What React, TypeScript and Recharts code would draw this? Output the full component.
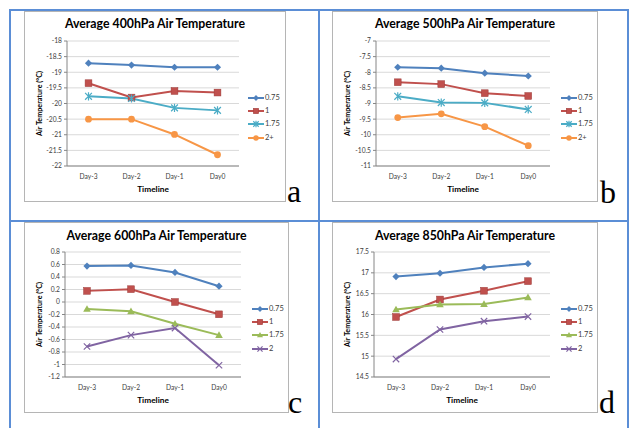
import React from 'react';
import { LineChart, Line, XAxis, YAxis, CartesianGrid, Legend, Label } from 'recharts';

const days = ['Day-3', 'Day-2', 'Day-1', 'Day0'];

// 400hPa
const t400_075 = [-18.71, -18.77, -18.84, -18.84];
const t400_1 = [-19.35, -19.81, -19.6, -19.65];
const t400_175 = [-19.77, -19.84, -20.14, -20.22];
const t400_2 = [-20.5, -20.5, -20.99, -21.64];
const ticks400 = [-22, -21.5, -21, -20.5, -20, -19.5, -19, -18.5, -18];

// 500hPa
const t500_075 = [-7.84, -7.87, -8.03, -8.12];
const t500_1 = [-8.32, -8.38, -8.67, -8.76];
const t500_175 = [-8.77, -8.97, -8.98, -9.19];
const t500_2 = [-9.45, -9.33, -9.74, -10.35];
const ticks500 = [-11, -10.5, -10, -9.5, -9, -8.5, -8, -7.5, -7];

// 600hPa
const t600_075 = [0.575, 0.585, 0.473, 0.253];
const t600_1 = [0.178, 0.205, 0.0, -0.197];
const t600_175 = [-0.112, -0.149, -0.347, -0.53];
const t600_2 = [-0.712, -0.53, -0.417, -1.012];
const ticks600 = [-1.2, -1, -0.8, -0.6, -0.4, -0.2, 0, 0.2, 0.4, 0.6, 0.8];

// 850hPa
const t850_075 = [16.91, 16.99, 17.13, 17.22];
const t850_1 = [15.94, 16.36, 16.57, 16.8];
const t850_175 = [16.12, 16.24, 16.25, 16.41];
const t850_2 = [14.93, 15.64, 15.84, 15.95];
const ticks850 = [14.5, 15, 15.5, 16, 16.5, 17, 17.5];

const namesAB = ['0.75', '1', '1.75', '2+'];
const namesCD = ['0.75', '1', '1.75', '2'];

const FONT = 'Lato, "Open Sans", sans-serif';
const BLUE = '#5b8ed6';

type Shape = 'diamond' | 'square' | 'star' | 'circle' | 'triangle' | 'x';

interface SeriesStyle {
  color: string;
  shape: Shape;
}

const stylesAB: SeriesStyle[] = [
  { color: '#4F81BD', shape: 'diamond' },
  { color: '#C0504D', shape: 'square' },
  { color: '#4BACC6', shape: 'star' },
  { color: '#F79646', shape: 'circle' },
];

const stylesCD: SeriesStyle[] = [
  { color: '#4F81BD', shape: 'diamond' },
  { color: '#C0504D', shape: 'square' },
  { color: '#9BBB59', shape: 'triangle' },
  { color: '#8064A2', shape: 'x' },
];

const Marker = ({ shape, cx, cy, color, s = 1 }: { shape: Shape; cx: number; cy: number; color: string; s?: number }) => {
  switch (shape) {
    case 'diamond': {
      const r = 3.6 * s;
      return <path d={`M${cx},${cy - r}L${cx + r},${cy}L${cx},${cy + r}L${cx - r},${cy}Z`} fill={color} />;
    }
    case 'square': {
      const r = 3.4 * s;
      return <rect x={cx - r} y={cy - r} width={2 * r} height={2 * r} fill={color} stroke="#9c3b38" strokeWidth={0.5} />;
    }
    case 'circle':
      return <circle cx={cx} cy={cy} r={3.4 * s} fill={color} />;
    case 'triangle': {
      const r = 3.8 * s;
      return <path d={`M${cx},${cy - r}L${cx + r},${cy + r * 0.75}L${cx - r},${cy + r * 0.75}Z`} fill={color} />;
    }
    case 'x': {
      const r = 3.2 * s;
      return (
        <path
          d={`M${cx - r},${cy - r}L${cx + r},${cy + r}M${cx - r},${cy + r}L${cx + r},${cy - r}`}
          stroke={color}
          strokeWidth={1.2}
          fill="none"
        />
      );
    }
    case 'star': {
      const r = 3.4 * s;
      return (
        <path
          d={`M${cx - r},${cy - r}L${cx + r},${cy + r}M${cx - r},${cy + r}L${cx + r},${cy - r}M${cx},${cy - r * 1.2}L${cx},${cy + r * 1.2}`}
          stroke={color}
          strokeWidth={1.2}
          fill="none"
        />
      );
    }
  }
  return null;
};

const LegendBox = ({ names, styles }: { names: string[]; styles: SeriesStyle[] }) => (
  <div style={{ fontFamily: FONT }}>
    {names.map((n, i) => (
      <div key={n} style={{ display: 'flex', alignItems: 'center', height: 13.3 }}>
        <svg width={16} height={10} style={{ display: 'block' }}>
          <line x1={0} y1={5} x2={16} y2={5} stroke={styles[i].color} strokeWidth={2} />
          <Marker shape={styles[i].shape} cx={8} cy={5} color={styles[i].color} s={0.8} />
        </svg>
        <span style={{ fontSize: 7.5, color: '#404040', marginLeft: 1, lineHeight: '10px' }}>{n}</span>
      </div>
    ))}
  </div>
);

interface PanelProps {
  title: string;
  x: number;
  y: number;
  w: number;
  h: number;
  yw: number;
  right: number;
  titleTop: number;
  legendX: number;
  series: number[][];
  names: string[];
  styles: SeriesStyle[];
  ticks: number[];
}

const Panel = ({ title, x, y, w, h, yw, right, titleTop, legendX, series, names, styles, ticks }: PanelProps) => {
  const data = days.map((d, i) => {
    const row: Record<string, string | number> = { day: d };
    series.forEach((vals, k) => {
      row[names[k]] = vals[i];
    });
    return row;
  });
  const top = 30;
  const xh = 36;
  const pad = (w - yw - right) / 8;

  return (
    <div
      style={{
        position: 'absolute',
        left: x,
        top: y,
        width: w,
        height: h,
        background: '#fff',
        boxShadow: 'inset 0 0 0 1px #b5b5b5',
      }}
    >
      <div
        style={{
          position: 'absolute',
          left: 0,
          top: titleTop,
          width: w,
          textAlign: 'center',
          fontFamily: FONT,
          fontWeight: 700,
          fontSize: 12.3,
          lineHeight: '14px',
          color: '#000',
        }}
      >
        {title}
      </div>
      <LineChart width={w} height={h} data={data} margin={{ top, right, left: 0, bottom: 0 }}>
        <CartesianGrid vertical={false} stroke="#d9d9d9" />
        <XAxis
          dataKey="day"
          height={xh}
          interval={0}
          padding={{ left: pad, right: pad }}
          axisLine={{ stroke: '#868686' }}
          tickLine={false}
          tickSize={4}
          tickMargin={4}
          tick={{ fontSize: 6.7, fill: '#404040', fontFamily: FONT }}
        >
          <Label
            value="Timeline"
            position="insideBottom"
            offset={10}
            style={{ fontSize: 8.3, fontWeight: 700, fill: '#000', fontFamily: FONT }}
          />
        </XAxis>
        <YAxis
          width={yw}
          domain={[ticks[0], ticks[ticks.length - 1]]}
          ticks={ticks}
          interval={0}
          axisLine={{ stroke: '#868686' }}
          tickLine={{ stroke: '#868686' }}
          tickSize={3}
          tickMargin={2}
          tick={{ fontSize: 6.7, fill: '#404040', fontFamily: FONT }}
          tickFormatter={(v: number) => String(v)}
        >
          <Label
            value="Air Temperature (°C)"
            angle={-90}
            position="insideLeft"
            offset={15}
            style={{ fontSize: 7.2, fontWeight: 700, fill: '#000', fontFamily: FONT, textAnchor: 'middle' }}
          />
        </YAxis>
        <YAxis yAxisId="edge" orientation="right" width={0} tick={false} tickLine={false} axisLine={{ stroke: '#d9d9d9' }} />
        {names.map((n, k) => (
          <Line
            key={n}
            dataKey={n}
            stroke={styles[k].color}
            strokeWidth={2}
            isAnimationActive={false}
            dot={(p: any) => (
              <Marker key={`${n}-${p.index}`} shape={styles[k].shape} cx={p.cx} cy={p.cy} color={styles[k].color} />
            )}
            activeDot={false}
          />
        ))}
        <Legend
          layout="vertical"
          align="center"
          verticalAlign="middle"
          wrapperStyle={{ left: legendX, top: 80, width: 'auto' }}
          content={() => <LegendBox names={names} styles={styles} />}
        />
      </LineChart>
    </div>
  );
};

const Letter = ({ ch, x, y }: { ch: string; x: number; y: number }) => (
  <div
    style={{
      position: 'absolute',
      left: x,
      top: y,
      fontFamily: '"Liberation Serif", "Times New Roman", serif',
      fontSize: 32,
      lineHeight: '32px',
      color: '#000',
    }}
  >
    {ch}
  </div>
);

const bar = (left: number, top: number, width: number, height: number) => (
  <div style={{ position: 'absolute', left, top, width, height, background: BLUE }} />
);

export default function App() {
  return (
    <div style={{ position: 'absolute', left: 0, top: 0, width: 629, height: 428, background: '#fff', overflow: 'hidden' }}>
      <Panel
        title="Average 400hPa Air Temperature"
        x={24}
        y={11}
        w={262}
        h={191}
        yw={43}
        right={47}
        titleTop={6}
        legendX={224}
        series={[t400_075, t400_1, t400_175, t400_2]}
        names={namesAB}
        styles={stylesAB}
        ticks={ticks400}
      />
      <Panel
        title="Average 500hPa Air Temperature"
        x={332}
        y={11}
        w={266}
        h={191}
        yw={44}
        right={48}
        titleTop={6}
        legendX={229}
        series={[t500_075, t500_1, t500_175, t500_2]}
        names={namesAB}
        styles={stylesAB}
        ticks={ticks500}
      />
      <Panel
        title="Average 600hPa Air Temperature"
        x={24}
        y={222}
        w={265}
        h={191}
        yw={41}
        right={48}
        titleTop={7}
        legendX={228}
        series={[t600_075, t600_1, t600_175, t600_2]}
        names={namesCD}
        styles={stylesCD}
        ticks={ticks600}
      />
      <Panel
        title="Average 850hPa Air Temperature"
        x={332}
        y={222}
        w={266}
        h={191}
        yw={42}
        right={48}
        titleTop={7}
        legendX={229}
        series={[t850_075, t850_1, t850_175, t850_2]}
        names={namesCD}
        styles={stylesCD}
        ticks={ticks850}
      />
      {bar(9, 9, 2, 419)}
      {bar(9, 9, 620, 2)}
      {bar(318, 9, 2, 419)}
      {bar(9, 220, 620, 2)}
      {bar(627, 9, 2, 419)}
      <Letter ch="a" x={287} y={175} />
      <Letter ch="b" x={600} y={176} />
      <Letter ch="c" x={288} y={386} />
      <Letter ch="d" x={599} y={386} />
    </div>
  );
}
